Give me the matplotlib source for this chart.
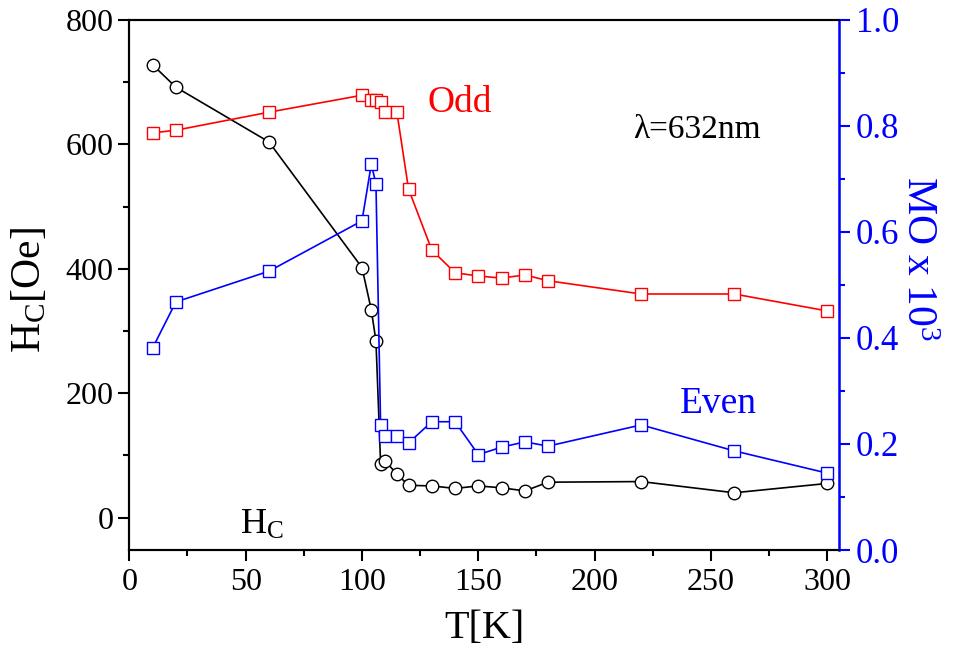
import matplotlib
matplotlib.use("Agg")
import matplotlib.pyplot as plt
from matplotlib.ticker import MultipleLocator, FormatStrFormatter

plt.rcParams['font.family'] = ['Liberation Serif', 'DejaVu Serif']
plt.rcParams['mathtext.fontset'] = 'stix'

# Coercive field H_C vs temperature
t_hc = [10, 20, 60, 100, 104, 106, 108, 110, 115, 120, 130, 140, 150, 160, 170, 180, 220, 260, 300]
hc = [728, 692, 604, 402, 334, 284, 87, 91, 70, 52, 51, 47, 51, 48, 43, 57, 58, 40, 55]

# Magneto-optical signal (x 10^3), odd and even components
t_mo = [10, 20, 60, 100, 104, 106, 108, 110, 115, 120, 130, 140, 150, 160, 170, 180, 220, 260, 300]
mo_odd = [0.787, 0.792, 0.826, 0.858, 0.849, 0.849, 0.846, 0.826, 0.826, 0.681, 0.566,
          0.523, 0.517, 0.513, 0.519, 0.508, 0.483, 0.483, 0.451]
mo_even = [0.381, 0.468, 0.526, 0.621, 0.728, 0.691, 0.235, 0.216, 0.216, 0.202, 0.242,
           0.242, 0.180, 0.194, 0.204, 0.196, 0.236, 0.187, 0.145]

fig = plt.figure(figsize=(9.68, 6.55), dpi=100)
ax = fig.add_axes([0.1336, 0.1603, 0.7331, 0.8092])
ax2 = ax.twinx()

ax.plot(t_hc, hc, '-o', color='black', lw=1.2, ms=9, mfc='white', mec='black', mew=1.0)
ax2.plot(t_mo, mo_odd, '-s', color='red', lw=1.2, ms=8, mfc='white', mec='red', mew=1.0)
ax2.plot(t_mo, mo_even, '-s', color='blue', lw=1.2, ms=8, mfc='white', mec='blue', mew=1.0)

ax.set_xlim(0, 305)
ax.set_ylim(-52, 800)
ax2.set_ylim(0, 1.0)

ax.xaxis.set_major_locator(MultipleLocator(50))
ax.xaxis.set_minor_locator(MultipleLocator(25))
ax.yaxis.set_major_locator(MultipleLocator(200))
ax.yaxis.set_minor_locator(MultipleLocator(100))
ax2.yaxis.set_major_locator(MultipleLocator(0.2))
ax2.yaxis.set_minor_locator(MultipleLocator(0.1))
ax2.yaxis.set_major_formatter(FormatStrFormatter('%.1f'))

ax.tick_params(axis='both', which='major', direction='out', length=8, width=1.5, labelsize=23)
ax.tick_params(axis='both', which='minor', direction='out', length=4.5, width=1.5)
ax.tick_params(axis='x', pad=5)
ax2.tick_params(axis='y', which='major', direction='out', length=8, width=1.5,
                labelsize=25, colors='blue', pad=4)
ax2.tick_params(axis='y', which='minor', direction='out', length=4.5, width=1.5, colors='blue')

for s in ['left', 'bottom', 'top']:
    ax.spines[s].set_linewidth(1.5)
    ax2.spines[s].set_linewidth(1.5)
ax2.spines['right'].set_color('blue')
ax2.spines['right'].set_linewidth(1.8)

ax.set_xlabel('T[K]', fontsize=29, labelpad=9)
ax.set_ylabel(r'$\mathregular{H_C[Oe]}$', fontsize=30, va='center')
ax.yaxis.set_label_coords(-0.14, 0.49)
ax2.set_ylabel(r'$\mathregular{MO\ x\ 10^3}$', fontsize=30, color='blue',
               rotation=270, va='center')
ax2.yaxis.set_label_coords(1.11, 0.55)

ax.text(142, 667, 'Odd', color='red', fontsize=27, ha='center', va='center')
ax.text(244, 623, 'λ=632nm', color='black', fontsize=24, ha='center', va='center')
ax.text(253, 183, 'Even', color='blue', fontsize=27, ha='center', va='center')
ax.text(57, -12, r'$\mathregular{H_C}$', color='black', fontsize=26, ha='center', va='center')

fig.savefig('out.png', dpi=100)
